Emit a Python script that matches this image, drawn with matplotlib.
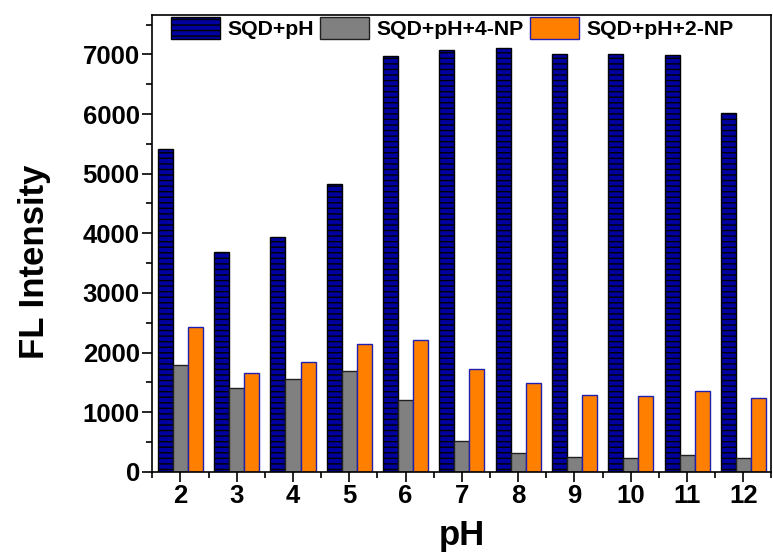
import numpy as np
import matplotlib
matplotlib.use("Agg")
import matplotlib.pyplot as plt
from matplotlib.ticker import MultipleLocator

plt.rcParams['font.family'] = ['Liberation Sans', 'DejaVu Sans']
plt.rcParams['font.weight'] = 'bold'
plt.rcParams['hatch.linewidth'] = 1.0
plt.rcParams['hatch.color'] = 'black'

# FL intensity vs pH for the three samples
ph = [2, 3, 4, 5, 6, 7, 8, 9, 10, 11, 12]
sqd_ph = [5420, 3680, 3935, 4820, 6970, 7070, 7100, 7000, 7000, 6990, 6025]
sqd_ph_4np = [1790, 1410, 1555, 1695, 1210, 510, 308, 241, 235, 275, 224]
sqd_ph_2np = [2420, 1650, 1835, 2140, 2215, 1722, 1482, 1286, 1275, 1348, 1231]
labels = ['SQD+pH', 'SQD+pH+4-NP', 'SQD+pH+2-NP']

fig = plt.figure(figsize=(7.73, 5.57), dpi=100)
ax = fig.add_axes([0.197, 0.153, 0.801, 0.820])

x = np.array(ph)
w = 0.2667
ax.bar(x - w, sqd_ph, w, color='#0000a0', edgecolor='black', linewidth=1.0,
       hatch='---', label=labels[0])
ax.bar(x, sqd_ph_4np, w, color='#808080', edgecolor='#202020', linewidth=1.0,
       label=labels[1])
ax.bar(x + w, sqd_ph_2np, w, color='#ff8000', edgecolor='#2020b0', linewidth=1.0,
       label=labels[2])

ax.set_xlim(1.5, 12.5)
ax.set_ylim(0, 7660)
ax.set_xticks(ph)
ax.xaxis.set_minor_locator(MultipleLocator(0.5))
ax.yaxis.set_major_locator(MultipleLocator(1000))
ax.yaxis.set_minor_locator(MultipleLocator(500))

for s in ax.spines.values():
    s.set_linewidth(1.2)
ax.tick_params(which='major', direction='out', length=7, width=1.2,
               labelsize=18.5, pad=2)
ax.tick_params(which='minor', direction='out', length=4, width=1.2)
for t in ax.get_xticklabels() + ax.get_yticklabels():
    t.set_fontweight('bold')

ax.set_xlabel('pH', fontsize=25, fontweight='bold', labelpad=8)
ax.set_ylabel('FL Intensity', fontsize=25, fontweight='bold')
ax.yaxis.set_label_coords(-0.163, 0.46)

ax.legend(loc='upper left', bbox_to_anchor=(0.03, 0.995), ncol=3,
          frameon=False, prop={'weight': 'bold', 'size': 15.3},
          handlelength=2.3, handleheight=1.2, handletextpad=0.35,
          columnspacing=0.3, borderaxespad=0, borderpad=0)

fig.savefig('out.png', dpi=100)
